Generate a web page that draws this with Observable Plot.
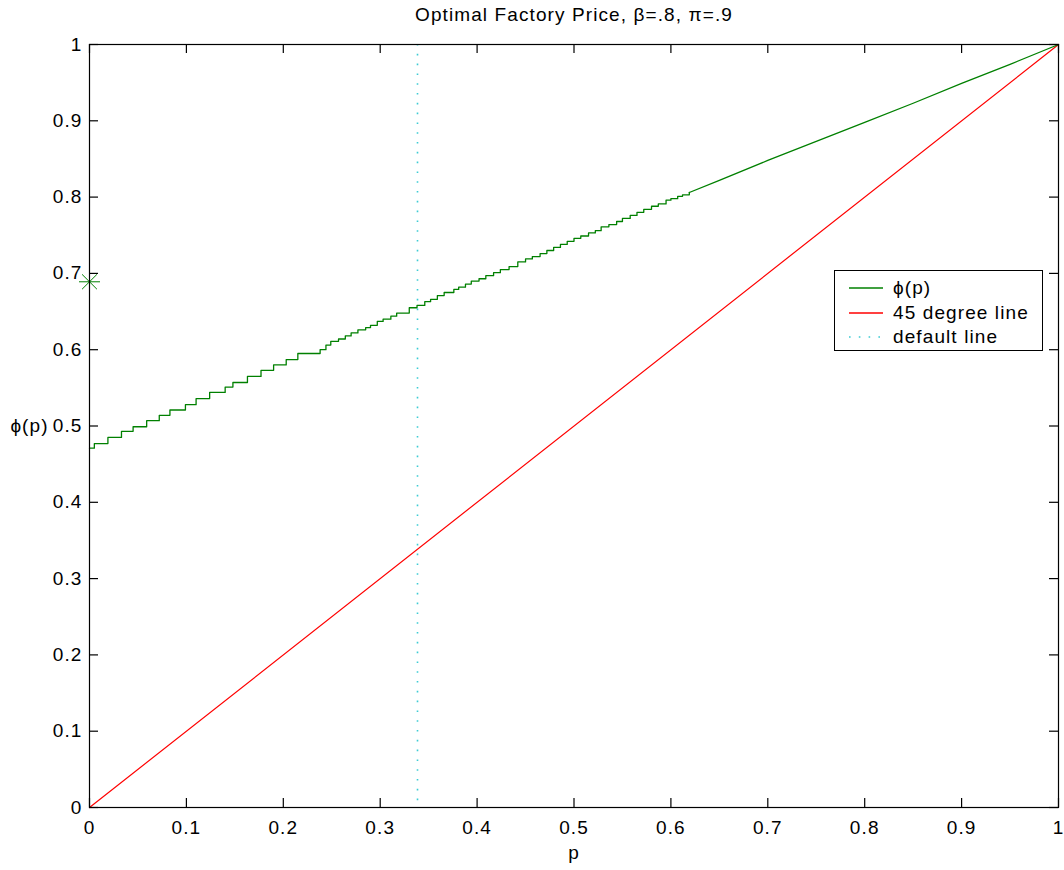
<!DOCTYPE html>
<html><head><meta charset="utf-8">
<script src="https://cdn.jsdelivr.net/npm/d3@7"></script>
<script src="https://cdn.jsdelivr.net/npm/@observablehq/plot@0.6"></script>
<style>
body{margin:0;background:#fff;}
#wrap{position:relative;width:1064px;height:870px;font-family:"Liberation Sans",Arial,sans-serif;}
#legend{position:absolute;left:834px;top:270px;width:207px;height:79px;border:1px solid #000;background:#fff;font-size:19px;letter-spacing:1.1px;}
#legend .row{position:absolute;left:0;height:24px;line-height:24px;white-space:nowrap;}
#legend svg{position:absolute;left:13px;top:0;}
#legend span{position:absolute;left:58px;top:0;}
</style></head><body><div id="wrap"></div>
<script>
// phi(p) step part (breakpoints)
const stepP = [0,0.005,0.019,0.033,0.045,0.059,0.072,0.083,0.099,0.110,0.124,0.140,0.148,0.163,0.177,0.190,0.203,0.215,0.238,0.244,0.249,0.257,0.264,0.270,0.277,0.285,0.290,0.297,0.303,0.311,0.317,0.330,0.338,0.346,0.352,0.359,0.366,0.376,0.381,0.388,0.394,0.402,0.409,0.417,0.424,0.433,0.442,0.450,0.457,0.465,0.472,0.479,0.486,0.493,0.500,0.507,0.515,0.522,0.528,0.536,0.544,0.550,0.558,0.565,0.572,0.580,0.587,0.595,0.600,0.607,0.612,0.619];
const stepPhi = [0.471,0.477,0.485,0.493,0.499,0.507,0.514,0.521,0.528,0.536,0.544,0.551,0.557,0.565,0.573,0.580,0.587,0.595,0.600,0.606,0.611,0.614,0.618,0.622,0.626,0.629,0.632,0.637,0.640,0.644,0.648,0.655,0.658,0.663,0.666,0.671,0.675,0.679,0.682,0.686,0.690,0.693,0.697,0.701,0.705,0.709,0.715,0.719,0.722,0.726,0.730,0.734,0.738,0.742,0.746,0.749,0.753,0.756,0.761,0.764,0.768,0.772,0.776,0.780,0.784,0.788,0.791,0.796,0.798,0.801,0.803,0.806];
// phi(p) upper part (nearly straight)
const tailP = [0.619,0.65,0.7,0.75,0.8,0.85,0.9,0.95,1.0];
const tailPhi = [0.806,0.822,0.848,0.873,0.898,0.923,0.949,0.974,1.0];
// 45 degree line
const diagP = [0,1];
const diagPhi = [0,1];
// default line position
const defaultP = [0.3385];
// starred point
const starP = [0];
const starPhi = [0.689];
// ticks
const xTicks = [0,0.1,0.2,0.3,0.4,0.5,0.6,0.7,0.8,0.9,1];
const xTickLabels = ["0","0.1","0.2","0.3","0.4","0.5","0.6","0.7","0.8","0.9","1"];
const yTicks = [0,0.1,0.2,0.3,0.4,0.5,0.6,0.7,0.8,0.9,1];
const yTickLabels = ["0","0.1","0.2","0.3","0.4","0.5","0.6","0.7","0.8","0.9","1"];
const legendLabels = ["ϕ(p)","45 degree line","default line"];
const titleText = "Optimal Factory Price, β=.8, π=.9";
const xLabel = "p";
const yLabel = "ϕ(p)";

const GREEN = "#008000", RED = "#ff0000", CYAN = "#3cccd4";

const stepData = stepP.map((p,i)=>({p, phi: stepPhi[i]}));
const tailData = tailP.map((p,i)=>({p, phi: tailPhi[i]}));
const diagData = diagP.map((p,i)=>({p, phi: diagPhi[i]}));
const starData = starP.map((p,i)=>({p, phi: starPhi[i]}));

const asterisk = {draw(ctx, size){
  const r = Math.sqrt(size/Math.PI), d = r*Math.SQRT1_2;
  ctx.moveTo(-r,0); ctx.lineTo(r,0);
  ctx.moveTo(0,-r); ctx.lineTo(0,r);
  ctx.moveTo(-d,-d); ctx.lineTo(d,d);
  ctx.moveTo(-d,d); ctx.lineTo(d,-d);
}};

const fx = d => xTickLabels[xTicks.indexOf(d)];
const fy = d => yTickLabels[yTicks.indexOf(d)];

// plot geometry (style)
const W = 1064, H = 870, ML = 89, MR = 6, MT = 44, MB = 63, TK = 9;
const frameW = W - ML - MR, frameH = H - MT - MB;

const chart = Plot.plot({
  width: W, height: H,
  marginLeft: ML, marginRight: MR, marginTop: MT, marginBottom: MB,
  style: {fontFamily: '"Liberation Sans", Arial, sans-serif', fontSize: "19px", letterSpacing: "1.1px", background: "#fff", color: "#000"},
  x: {domain: [0,1]},
  y: {domain: [0,1]},
  marks: [
    Plot.ruleX(defaultP, {stroke: CYAN, strokeWidth: 1.6, strokeDasharray: "1.6,8.2"}),
    Plot.line(diagData, {x: "p", y: "phi", stroke: RED, strokeWidth: 1.2}),
    Plot.line(stepData, {x: "p", y: "phi", stroke: GREEN, strokeWidth: 1.3, curve: "step-after"}),
    Plot.line(tailData, {x: "p", y: "phi", stroke: GREEN, strokeWidth: 1.3}),
    Plot.dot(starData, {x: "p", y: "phi", r: 10.5, symbol: asterisk, stroke: GREEN, fill: "none", strokeWidth: 1}),
    // inward ticks on all four sides
    Plot.ruleX(xTicks, {insetTop: frameH - TK, stroke: "#000", strokeWidth: 1.2}),
    Plot.ruleX(xTicks, {insetBottom: frameH - TK, stroke: "#000", strokeWidth: 1.2}),
    Plot.ruleY(yTicks, {insetRight: frameW - TK, stroke: "#000", strokeWidth: 1.2}),
    Plot.ruleY(yTicks, {insetLeft: frameW - TK, stroke: "#000", strokeWidth: 1.2}),
    Plot.frame({stroke: "#000", strokeWidth: 1.2}),
    Plot.axisX({anchor: "bottom", ticks: xTicks, tickSize: 0, tickPadding: 13, tickFormat: fx, label: null, fontSize: 19}),
    Plot.axisY({anchor: "left", ticks: yTicks, tickSize: 0, tickPadding: 7, tickFormat: fy, label: null, fontSize: 19}),
    Plot.text([titleText], {frameAnchor: "top", dy: -30, lineAnchor: "middle", fontSize: 19, fill: "#000"}),
    Plot.text([xLabel], {frameAnchor: "bottom", dy: 45, lineAnchor: "middle", fontSize: 19, fill: "#000", textAnchor: "middle"}),
    Plot.text([yLabel], {frameAnchor: "left", dx: -60, fontSize: 19, fill: "#000", textAnchor: "middle"})
  ]
});
const wrap = document.getElementById("wrap");
wrap.appendChild(chart);

// legend
const legend = document.createElement("div");
legend.id = "legend";
const legStyles = [
  {stroke: GREEN, dash: null, w: 1.4},
  {stroke: RED, dash: null, w: 1.4},
  {stroke: CYAN, dash: "1.6,8.2", w: 1.6}
];
const rowTops = [5, 30, 54];
legendLabels.forEach((lab, i) => {
  const row = document.createElement("div");
  row.className = "row";
  row.style.top = rowTops[i] + "px";
  row.style.width = "200px";
  const s = legStyles[i];
  row.innerHTML = `<svg width="36" height="24"><line x1="1" x2="35" y1="12" y2="12" stroke="${s.stroke}" stroke-width="${s.w}" ${s.dash ? `stroke-dasharray="${s.dash}"` : ""}/></svg><span>${lab}</span>`;
  legend.appendChild(row);
});
wrap.appendChild(legend);
</script>
</body></html>
